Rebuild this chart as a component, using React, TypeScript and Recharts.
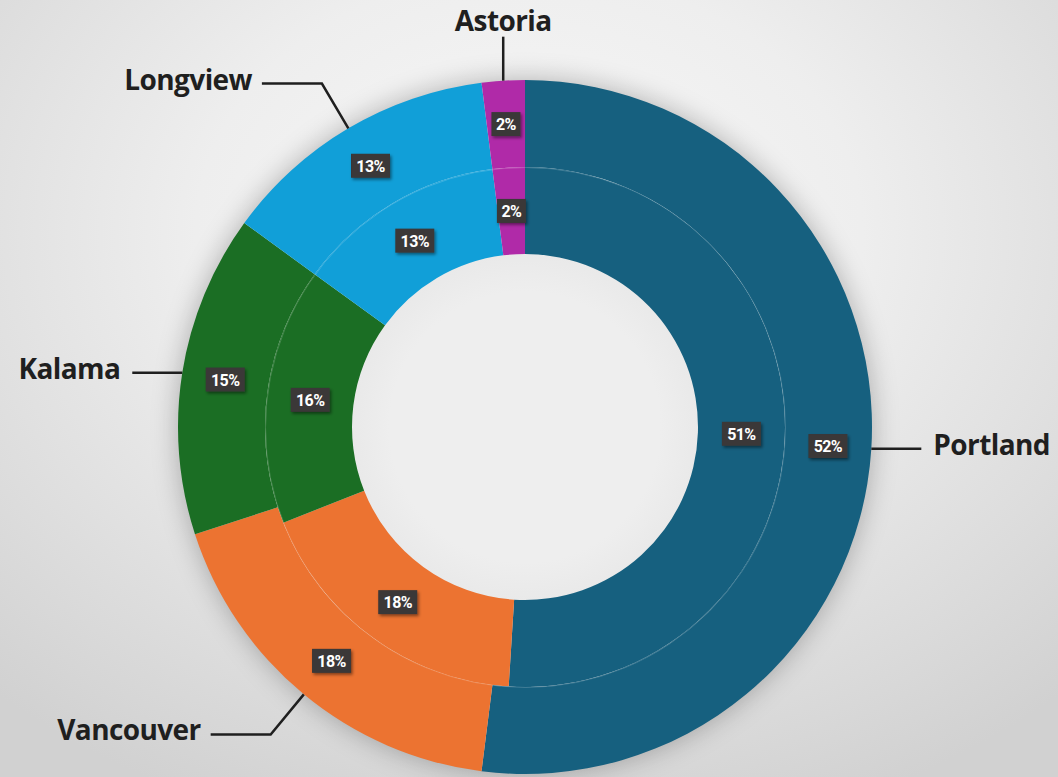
import React from 'react';
import { PieChart, Pie, Cell } from 'recharts';

// ring data, clockwise from 12 o'clock
const cities = ['Portland', 'Vancouver', 'Kalama', 'Longview', 'Astoria'];
const outerShare = [52, 18, 15, 13, 2];
const innerShare = [51, 18, 16, 13, 2];
const colors = ['#16607f', '#ec7331', '#1b6e24', '#119fd8', '#b02aa8'];

const outerData = cities.map((name, i) => ({ name, value: outerShare[i] }));
const innerData = cities.map((name, i) => ({ name, value: innerShare[i] }));

const RAD = Math.PI / 180;
const W = 1058;
const H = 777;
const CX = 525;
const CY = 427;

const boxLabel = (props: any) => {
  const { cx, cy, midAngle, innerRadius, outerRadius, value } = props;
  const r = (innerRadius + outerRadius) / 2;
  const x = cx + r * Math.cos(-midAngle * RAD);
  const y = cy + r * Math.sin(-midAngle * RAD);
  const txt = `${value}%`;
  const w = txt.length * 10 + 9;
  return (
    <g>
      <rect x={x - w / 2} y={y - 12} width={w} height={24} fill="#3a3737" filter="url(#lblShadow)" />
      <text x={x} y={y + 6} fill="#fff" fontSize={16} fontWeight={700} fontFamily="Roboto, sans-serif"
        textAnchor="middle" letterSpacing={-0.6}>{txt}</text>
    </g>
  );
};

const outerLabel = (props: any) => {
  const { cx, cy, midAngle, outerRadius, name } = props;
  const c = Math.cos(-midAngle * RAD);
  const s = Math.sin(-midAngle * RAD);
  const sx = cx + outerRadius * c;
  const sy = cy + outerRadius * s;
  let pts: number[][];
  let tx: number, ty: number, anchor: 'start' | 'end' | 'middle';
  if (Math.abs(c) < 0.2) {
    // near the top: straight up
    const ey = sy - 44;
    pts = [[sx, sy], [sx, ey]];
    tx = sx; ty = ey - 12; anchor = 'middle';
  } else if (Math.abs(s) < 0.2) {
    const dir = Math.sign(c);
    const ex = sx + dir * 50;
    pts = [[sx, sy], [ex, sy]];
    tx = ex + dir * 12; ty = sy; anchor = dir > 0 ? 'start' : 'end';
  } else {
    const dir = Math.sign(c);
    const bx = cx + (outerRadius + 52) * c;
    const by = cy + (outerRadius + 52) * s;
    const ex = bx + dir * 60;
    pts = [[sx, sy], [bx, by], [ex, by]];
    tx = ex + dir * 10; ty = by; anchor = dir > 0 ? 'start' : 'end';
  }
  return (
    <g>
      {boxLabel(props)}
      <polyline points={pts.map((p) => p.join(',')).join(' ')} fill="none" stroke="#1f1f1f" strokeWidth={2.5} />
      <text x={tx} y={ty + 6} fill="#1f1f1f" fontSize={28} fontWeight={700} fontFamily="'Open Sans', sans-serif"
        textAnchor={anchor} letterSpacing={-0.6}>{name}</text>
    </g>
  );
};

export default function App() {
  return (
    <div style={{
      position: 'absolute', left: 0, top: 0, width: W, height: H, overflow: 'hidden',
      background: 'radial-gradient(ellipse 75% 80% at 50% 30%, #f8f8f8 0%, #eeeeee 42%, #d1d1d1 100%)',
    }}>
      <svg width={0} height={0} style={{ position: 'absolute' }}>
        <defs>
          <filter id="lblShadow" x="-30%" y="-30%" width="170%" height="170%">
            <feDropShadow dx={1.5} dy={2} stdDeviation={1.5} floodColor="#000" floodOpacity={0.45} />
          </filter>
        </defs>
      </svg>
      <div style={{
        position: 'absolute', left: CX - 346, top: CY - 346, width: 692, height: 692, borderRadius: '50%',
        boxShadow: '0 0 26px 2px rgba(0,0,0,0.26)',
      }} />
      <div style={{
        position: 'absolute', left: CX - 174, top: CY - 174, width: 348, height: 348, borderRadius: '50%',
        background: 'radial-gradient(circle at 50% 50%, #eeeeee 55%, #e0e0e0 100%)',
      }} />
      <div style={{ position: 'absolute', left: 0, top: 0 }}>
        <PieChart width={W} height={H} margin={{ top: 0, right: 0, bottom: 0, left: 0 }}>
          <Pie data={innerData} dataKey="value" nameKey="name" cx={CX} cy={CY}
            innerRadius={173} outerRadius={260} startAngle={90} endAngle={-270}
            stroke="none" label={boxLabel} labelLine={false} isAnimationActive={false}>
            {innerData.map((d, i) => <Cell key={`in-${d.name}`} fill={colors[i]} />)}
          </Pie>
          <Pie data={outerData} dataKey="value" nameKey="name" cx={CX} cy={CY}
            innerRadius={260} outerRadius={347} startAngle={90} endAngle={-270}
            stroke="none" label={outerLabel} labelLine={false} isAnimationActive={false}>
            {outerData.map((d, i) => <Cell key={`out-${d.name}`} fill={colors[i]} />)}
          </Pie>
        </PieChart>
      </div>
      <div style={{
        position: 'absolute', left: CX - 260.5, top: CY - 260.5, width: 521, height: 521, borderRadius: '50%',
        boxSizing: 'border-box', border: '1px solid rgba(255,255,255,0.18)', pointerEvents: 'none',
      }} />
    </div>
  );
}
